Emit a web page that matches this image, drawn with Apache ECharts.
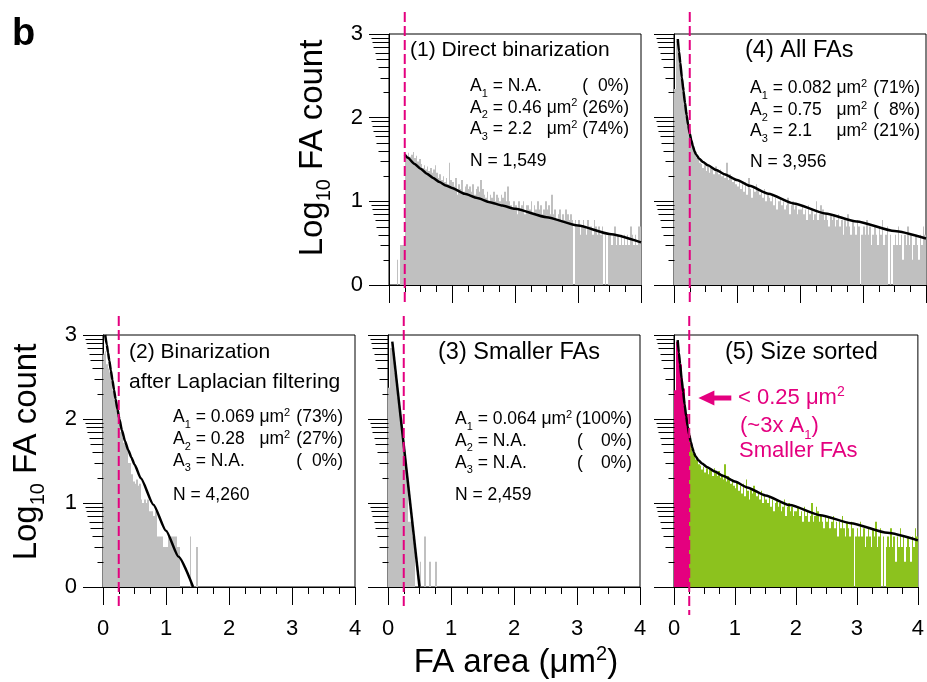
<!DOCTYPE html>
<html><head><meta charset="utf-8">
<script src="https://cdn.jsdelivr.net/npm/echarts@6/dist/echarts.min.js"></script>
<style>html,body{margin:0;padding:0;background:#fff}#c{width:927px;height:682px}</style>
</head><body><div id="c"></div><script>
// ---------------- data ----------------
const binWidth = 0.025;           // µm² per histogram bin
const thresholdArea = 0.25;       // µm² (dashed line)
const xTickValues = [0, 1, 2, 3, 4];
const yTickLabels = ['0', '1', '2', '3'];
const minorK = [2, 3, 4, 5, 6, 7, 8, 9];

// (1) Direct binarization – counts per bin
const countsDirect = [
 0,0,0,0,0,2,0,3,3,3,
 37,35,38,34,36,39,33,35,30,32,
 28,25,27,24,26,23,25,22,24,27,
 22,19,21,18,20,17,19,16,29,18,
 17,15,19,12,16,14,18,13,15,16,
 14,15,13,16,12,14,15,13,18,14,
 12,11,13,10,12,11,13,10,12,11,
 10,12,11,13,10,15,
 10,9,8,10,9,7,10,8,9,10,7,9,
 9,8,10,7,9,8,10,8,9,7,8,10,8,9,7,12,
 7,8,6,7,8,6,7,6,8,7,6,7,6,
 1,
 6,5,6,4,5,6,5,4,6,5,5,4,6,5,4,5,4,5,
 1,4,1,4,
 4,3,4,5,3,4,3,4,3,4,3,4,3,5,4,3,4,3,5,5
];
// (4) All FAs and (5) Size sorted – counts per bin
const countsAll = [
 220,830,860,600,450,310,230,150,115,78,
 63,47,40,38,33,35,29,28,25,27,
 23,26,22,25,24,21,26,23,21,24,
 20,22,19,29,18,21,20,17,19,16,
 15,18,14,16,13,17,12,19,14,11,
 15,13,16,14,12,13,11,14,10,12,
 11,10,12,9,11,8,10,11,9,10,
 8,9,11,7,9,10,8,9,7,8,
 8,9,7,8,6,9,7,8,6,7,
 10,6,7,9,8,6,7,6,5,7,
 6,7,5,6,7,5,6,4,6,5,
 7,5,4,6,5,4,6,5,1,4,
 5,4,6,4,5,3,4,5,4,3,
 5,4,6,3,4,5,1,4,1,3,
 4,3,5,3,4,2,4,3,5,3,
 4,2,3,4,3,2,4,3,5,4
];
// (2) Binarization after Laplacian filtering
const countsLaplacian = [
 600,640,450,400,360,280,220,170,140,110,
 85,70,60,52,48,42,30,30,22,18,
 17,19,16,17,11,10,11,10,11,8,
 8,8,7,8,4,4,4,4,3,3,
 3,4,4,4,4,4,4,3,3,1,
 1,0,1,0,0,4,0,0,0,3
];
// (3) Smaller FAs
const countsSmaller = [
 235,700,700,500,355,250,180,120,80,56,
 40,28,24,6,6,4,4,1,1,0,
 2,0,0,4,0,0,2,0,0,0,2
];

// fitted curves, [area, log10 count]
const fitDirect = [[0.25,1.56],[0.3,1.52],[0.4,1.45],[0.5,1.39],[0.6,1.33],[0.7,1.28],[0.8,1.23],[0.9,1.19],[1.0,1.16],[1.2,1.09],[1.4,1.04],[1.6,0.99],[1.8,0.95],[2.0,0.91],[2.5,0.81],[3.0,0.71],[3.5,0.61],[4.0,0.51]];
const fitAll = [[0.06,2.94],[0.08,2.79],[0.1,2.65],[0.125,2.48],[0.15,2.32],[0.175,2.17],[0.2,2.03],[0.225,1.91],[0.25,1.81],[0.275,1.73],[0.3,1.66],[0.325,1.60],[0.35,1.56],[0.4,1.51],[0.46,1.47],[0.54,1.43],[0.67,1.375],[0.8,1.325],[1.0,1.255],[1.2,1.185],[1.5,1.09],[1.9,0.975],[2.4,0.855],[2.9,0.76],[3.5,0.645],[4.0,0.555]];
const fitLaplacian = [[0.035,3.0],[0.06,2.885],[0.08,2.79],[0.1,2.695],[0.125,2.578],[0.15,2.46],[0.175,2.345],[0.2,2.235],[0.23,2.115],[0.26,2.0],[0.3,1.865],[0.35,1.735],[0.4,1.632],[0.45,1.543],[0.5,1.458],[0.6,1.294],[0.8,0.98],[1.0,0.67],[1.2,0.36],[1.43,0]];
const fitSmaller = [[0.068,2.92],[0.5,0]];

// arrow annotation in panel (5): [tip area, log count, tail area]
const arrowSpec = [0.4, 2.25, 0.94];

// ---------------- style / layout ----------------
const FONT = "'Liberation Sans', Arial, Helvetica, sans-serif";
const PINK = '#E4007F', GREEN = '#8CC21E', GRAY = '#C0C0C0';
const minorTickLen = [6, 9, 11, 13, 14, 16, 17, 18];

const panels = [
  {grid:{left:389,top:34,width:252,height:251}, counts:countsDirect, fit:fitDirect, xl:false, yl:true, color:GRAY, dash:[22,20]},
  {grid:{left:674,top:34,width:252,height:251}, counts:countsAll, fit:fitAll, xl:false, yl:false, color:GRAY, dash:[22,20]},
  {grid:{left:103,top:335,width:252,height:252}, counts:countsLaplacian, fit:fitLaplacian, xl:true, yl:true, color:GRAY, dash:[19,21]},
  {grid:{left:388,top:335,width:252,height:252}, counts:countsSmaller, fit:fitSmaller, xl:true, yl:false, color:GRAY, dash:[19,21]},
  {grid:{left:674,top:335,width:252,height:252}, counts:countsAll, fit:fitAll, xl:true, yl:false, color:GREEN, colorSmall:PINK, dash:[19,28]}
];

const yMinorData = [];
for (let d = 0; d < 3; d++) for (const k of minorK) yMinorData.push([0, d + Math.log10(k), k]);

const grid = [], xAxis = [], yAxis = [], series = [];
panels.forEach((p, i) => {
  grid.push(Object.assign({show:true, borderColor:'#000', borderWidth:1, backgroundColor:'transparent'}, p.grid));
  xAxis.push({type:'value', gridIndex:i, min:0, max:4, interval:1,
    axisLine:{show:true, onZero:false, lineStyle:{color:'#000', width:1}},
    axisTick:{show:true, length:18, lineStyle:{color:'#000', width:1}},
    minorTick:{show:true, splitNumber:4, length:7, lineStyle:{color:'#000', width:1}},
    splitLine:{show:false}, minorSplitLine:{show:false},
    axisLabel:{show:p.xl, fontSize:22, fontFamily:FONT, color:'#000', margin:31,
      formatter:v => xTickValues.includes(v) ? String(v) : ''}
  });
  yAxis.push({type:'value', gridIndex:i, min:0, max:3, interval:1,
    axisLine:{show:true, onZero:false, lineStyle:{color:'#000', width:1}},
    axisTick:{show:true, length:20, lineStyle:{color:'#000', width:1}},
    splitLine:{show:false},
    axisLabel:{show:p.yl, fontSize:22, fontFamily:FONT, color:'#000', margin:26,
      formatter:v => yTickLabels[v]}
  });
  // histogram
  const hist = [];
  p.counts.forEach((c, b) => { if (c > 1) hist.push([b * binWidth, Math.log10(c)]); });
  series.push({type:'custom', xAxisIndex:i, yAxisIndex:i, data:hist, clip:true, z:1,
    renderItem:(params, api) => {
      const x0 = api.value(0), y = api.value(1);
      const a = api.coord([x0, 0]), b = api.coord([x0 + binWidth, y]);
      const xa = Math.round(a[0]), xb = Math.round(b[0]);
      const col = (p.colorSmall && x0 < thresholdArea - 1e-9) ? p.colorSmall : p.color;
      return {type:'rect', shape:{x:xa, y:b[1], width:xb - xa, height:a[1]-b[1]}, style:{fill:col}};
    }});
  // fit curve
  series.push({type:'line', xAxisIndex:i, yAxisIndex:i, data:p.fit, symbol:'none', smooth:p.fit.length > 2 ? 0.2 : false,
    smoothMonotone:'x', lineStyle:{color:'#000', width:2.5}, z:5, clip:true});
  // threshold dashed line
  series.push({type:'custom', xAxisIndex:i, yAxisIndex:i, data:[[thresholdArea]], clip:false, z:6,
    renderItem:(params, api) => {
      const t = api.coord([api.value(0), 3]), bt = api.coord([api.value(0), 0]);
      return {type:'line', shape:{x1:t[0], y1:t[1]-p.dash[0], x2:t[0], y2:bt[1]+p.dash[1]},
        style:{stroke:PINK, lineWidth:2, lineDash:[10,4]}};
    }});
  // log minor ticks on y axis
  series.push({type:'custom', xAxisIndex:i, yAxisIndex:i, data:yMinorData, clip:false, z:4,
    renderItem:(params, api) => {
      const v = api.value(1), k = api.value(2);
      const pt = api.coord([0, v]);
      const y = Math.round(pt[1]) + 0.5, x = Math.round(pt[0]) + 0.5;
      return {type:'line', shape:{x1:x - minorTickLen[k-2], y1:y, x2:x, y2:y}, style:{stroke:'#000', lineWidth:1}};
    }});
});
// arrow in panel 5
series.push({type:'custom', xAxisIndex:4, yAxisIndex:4, data:[arrowSpec], clip:false, z:7,
  renderItem:(params, api) => {
    const tip = api.coord([api.value(0), api.value(1)]);
    const tail = api.coord([api.value(2), api.value(1)]);
    const hl = 16, hw = 7.5, sw = 2.5;
    return {type:'group', children:[
      {type:'polygon', shape:{points:[[tip[0],tip[1]],[tip[0]+hl,tip[1]-hw],[tip[0]+hl,tip[1]+hw]]}, style:{fill:PINK}},
      {type:'rect', shape:{x:tip[0]+hl-1, y:tip[1]-sw, width:tail[0]-tip[0]-hl+1, height:2*sw}, style:{fill:PINK}}
    ]};
  }});

// ---------------- text helpers ----------------
const mctx = document.createElement('canvas').getContext('2d');
function tw(t, fs, w) { mctx.font = (w || 'normal') + ' ' + fs + 'px ' + FONT; return mctx.measureText(t).width; }
function tEl(x, base, t, fs, o) {
  o = o || {};
  return {type:'text', x:x, y:base - 0.31*fs, silent:true, z:100,
    style:{text:t, fontSize:fs, fontFamily:FONT, fontWeight:o.weight || 'normal', fill:o.color || '#000',
      align:o.align || 'left', verticalAlign:'middle'}};
}
function runW(parts) { return parts.reduce((s, q) => s + tw(q[0], q[1]), 0); }
function run(x, base, parts, color) {
  const out = []; let cx = x;
  for (const q of parts) { out.push(tEl(cx, base + (q[2] || 0), q[0], q[1], {color})); cx += tw(q[0], q[1]); }
  return out;
}
const FS = 17.5, SUB = 11;
function aPart(idx, val) { return [['A', FS], [String(idx), SUB, 5], [' = ' + val, FS]]; }
const unitParts = [['μm', FS], ['2', SUB, -7]];

const g = [];
// panel letter
g.push(tEl(12, 46, 'b', 38, {weight:'bold'}));
// axis titles
function vLabel(bx, cy) {
  const parts = [['Log', 33], ['10', 20, 8], [' FA count', 33]];
  const w = runW(parts);
  return {type:'group', x:bx, y:cy, rotation:Math.PI/2, children:run(-w/2, 0, parts)};
}
g.push(vLabel(323, 148));
g.push(vLabel(37, 452));
(function(){
  const parts = [['FA area (μm', 33], ['2', 20, -12], [')', 33]];
  const w = runW(parts);
  g.push(...run(516 - w/2, 673, parts));
})();

function stats(colA, colR, bases, lines, nText, gapU) {
  let colU = colA;
  lines.forEach((L, j) => { if (L.u) colU = Math.max(colU, colA + runW(aPart(j+1, L.v)) + tw(' ', FS)); });
  lines.forEach((L, j) => {
    g.push(...run(colA, bases[j], aPart(j+1, L.v)));
    if (L.u) g.push(...run(colU, bases[j], unitParts));
    if (L.open !== undefined) g.push(tEl(L.open, bases[j], '(', FS));
    g.push(tEl(colR, bases[j], L.p, FS, {align:'right'}));
  });
  g.push(tEl(colA, bases[3], nText, FS));
}
// (1)
g.push(tEl(410, 57, '(1) Direct binarization', 21));
stats(470, 629, [92, 113.5, 135, 167], [
  {v:'N.A.', p:'(  0%)'}, {v:'0.46', u:true, p:'(26%)'}, {v:'2.2', u:true, p:'(74%)'}], 'N = 1,549');
// (4)
g.push(tEl(745, 58, '(4) All FAs', 23.5));
stats(750, 920, [94, 116, 137, 167.5], [
  {v:'0.082', u:true, p:'(71%)'}, {v:'0.75', u:true, p:'(  8%)'}, {v:'2.1', u:true, p:'(21%)'}], 'N = 3,956');
// (2)
g.push(tEl(129, 359, '(2) Binarization', 21));
g.push(tEl(129, 389, 'after Laplacian filtering', 21));
stats(173, 343, [423, 445, 466.5, 500.5], [
  {v:'0.069', u:true, p:'(73%)'}, {v:'0.28', u:true, p:'(27%)'}, {v:'N.A.', p:'(  0%)'}], 'N = 4,260');
// (3)
g.push(tEl(438, 360, '(3) Smaller FAs', 23.5));
stats(455, 632, [425, 446.7, 468.3, 500.5], [
  {v:'0.064', u:true, p:'(100%)'}, {v:'N.A.', p:'0%)', open:577}, {v:'N.A.', p:'0%)', open:577}], 'N = 2,459');
// (5)
g.push(tEl(725, 360, '(5) Size sorted', 23.5));
g.push(...run(738, 405, [['< 0.25 μm', 22], ['2', 14, -9]], PINK));
g.push(...run(740, 433, [['(~3x A', 22], ['1', 13, 6], [')', 22]], PINK));
g.push(tEl(739, 458, 'Smaller FAs', 22, {color:PINK}));

const chart = echarts.init(document.getElementById('c'), null, {renderer:'canvas'});
chart.setOption({animation:false, backgroundColor:'#fff', grid, xAxis, yAxis, series, graphic:g});
</script></body></html>
